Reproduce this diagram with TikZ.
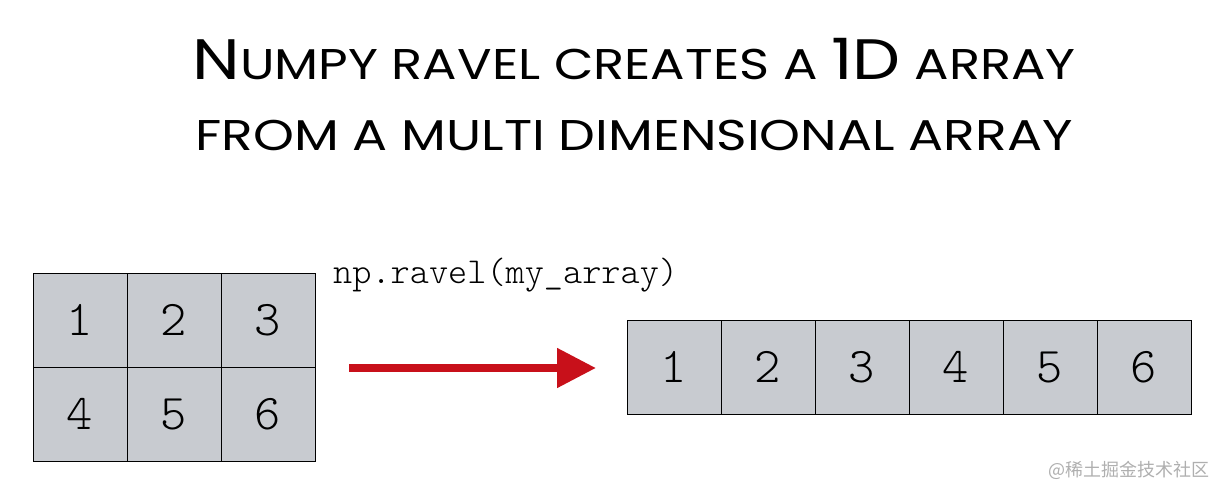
\documentclass[tikz,border=0pt]{standalone}
\usepackage{fontspec}
\usepackage{graphicx}
\newfontfamily\titlefont{Poppins}
\newfontfamily\cjkfont{Noto Sans CJK SC}
\newfontfamily\lightmono{Latin Modern Mono Light}
\usetikzlibrary{arrows.meta}
\definecolor{cellgray}{RGB}{200,203,208}
\definecolor{arrowred}{RGB}{200,16,26}
\definecolor{wmgray}{RGB}{175,175,175}
\tikzset{
  cell/.style={draw=black, fill=cellgray, minimum width=94pt, minimum height=94pt,
    inner sep=0pt, line width=0.9pt, font=\fontsize{50}{50}\selectfont\lightmono},
  bigarrow/.style={draw=arrowred, line width=8pt, -{Triangle[length=39pt,width=38pt]}},
  titletext/.style={font=\titlefont, anchor=base, inner sep=0pt},
}
\newcommand{\bigc}{\fontsize{57}{57}\selectfont}
\newcommand{\smc}{\fontsize{43}{43}\selectfont}
\begin{document}
\begin{tikzpicture}[x=1pt, y=-1pt]
\useasboundingbox (0,0) rectangle (1228,500);
% title
\node[titletext] (t1) at (634,80) {\scalebox{1.19}[1]{\bigc N\smc UMPY RAVEL CREATES A \bigc 1D\smc{} ARRAY}};
\node[titletext] (t2) at (634,150) {\scalebox{1.21}[1]{\smc FROM A MULTI DIMENSIONAL ARRAY}};
% left 2D grid
\node[cell] (g1) at (80,320) {1};
\node[cell] (g2) at (174,320) {2};
\node[cell] (g3) at (268,320) {3};
\node[cell] (g4) at (80,414) {4};
\node[cell] (g5) at (174,414) {5};
\node[cell] (g6) at (268,414) {6};
% right 1D array
\node[cell] (a1) at (674,367) {1};
\node[cell] (a2) at (768,367) {2};
\node[cell] (a3) at (862,367) {3};
\node[cell] (a4) at (956,367) {4};
\node[cell] (a5) at (1050,367) {5};
\node[cell] (a6) at (1144,367) {6};
% code label
\node[anchor=base west, inner sep=0pt, font=\fontsize{36.5}{37}\selectfont\lightmono] (code) at (333,283) {np.ravel(my\_array)};
% arrow
\coordinate (as) at (349,368);
\coordinate (ae) at (596,368);
\draw[bigarrow] (as) -- (ae);
% watermark
\node[anchor=base east, inner sep=0pt, text=wmgray, font=\cjkfont\fontsize{18}{18}\selectfont] (wm) at (1210,476) {@稀土掘金技术社区};
\end{tikzpicture}
\end{document}
